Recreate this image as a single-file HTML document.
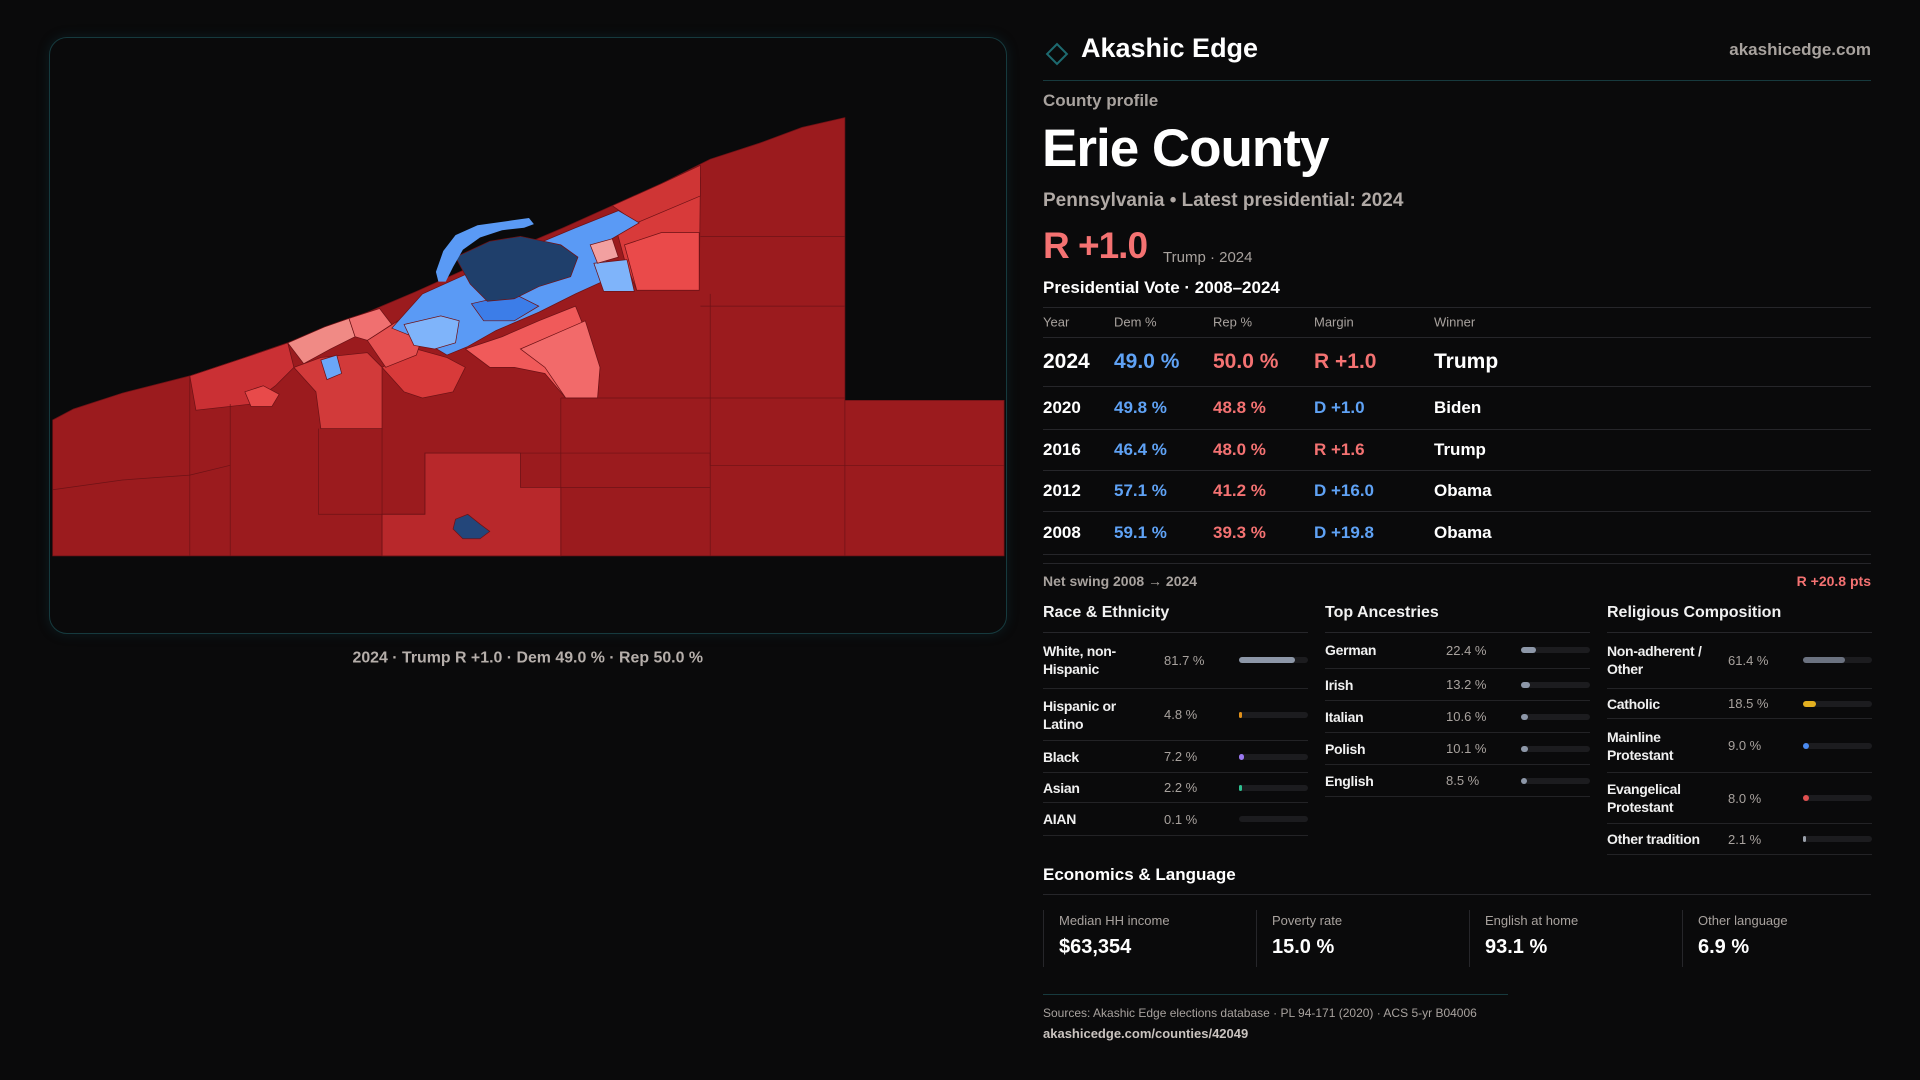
<!DOCTYPE html>
<html><head><meta charset="utf-8"><style>
*{box-sizing:border-box;margin:0;padding:0}
body{width:1920px;height:1080px;background:#0a0a0b;color:#fff;font-family:"Liberation Sans",sans-serif;position:relative;overflow:hidden}
.abs{position:absolute;white-space:nowrap}
.gray{color:#a8a29e}
.hl{position:absolute;height:1px;background:#26262a}
.sec-title{font-size:16px;font-weight:bold;color:#f2f2f2}
.row{position:absolute;left:0;width:265px;border-bottom:1px solid #232326;display:flex;align-items:center}
.row .lab{width:121px;padding-right:14px;font-size:14px;font-weight:bold;color:#f0f0f0;line-height:18px;white-space:normal;letter-spacing:-0.3px}
.row .val{width:75px;font-size:13px;color:#a8a29e}
.track{width:69px;height:6px;border-radius:3px;background:#1c1c1f;position:relative}
.fill{position:absolute;left:0;top:0;height:6px;border-radius:3px}
.tr{position:absolute;left:1043px;width:828px;border-bottom:1px solid #26262a}
.tr span{position:absolute;top:50%;transform:translateY(-50%);font-weight:bold}
.card{position:absolute;top:910px;height:57px;border-left:1px solid #26262a;padding-left:15px}
.card .l{font-size:13px;color:#a8a29e;margin-top:3px}
.card .v{font-size:20px;font-weight:bold;margin-top:8px}
</style></head><body>

<div style="position:absolute;left:49px;top:37px;width:958px;height:597px;border:1px solid #163a3e;border-radius:18px;background:#0a0a0b;box-shadow:0 0 12px rgba(20,80,90,0.25)"></div>

<svg style="position:absolute;left:0;top:0" width="1920" height="1080" viewBox="0 0 1568 882">
<g stroke="#6e1216" stroke-width="0.6">
<polygon fill="#9b1b1e" points="43,454 43,343 60,334 100,321 155,307 200,292 235,280 270,266 300,255 340,238 380,220 420,203 460,186 500,168 540,150 580,130 620,117 655,104 690,96 690,327 820,327 820,454"/>
<polygon fill="#b8282b" points="347,370 425,370 425,398 458,398 458,454 312,454 312,420 347,420"/>
<polygon fill="#ca3034" points="155,307 200,292 235,280 240,300 225,315 205,330 160,335"/>
<polygon fill="#d23a3a" points="240,300 262,292 300,288 312,300 312,350 262,350 258,320"/>
<polygon fill="#e84a4a" points="200,320 215,315 228,322 222,332 205,332"/>
<polygon fill="#f08a85" points="235,280 265,267 285,260 290,275 270,285 248,297"/>
<polygon fill="#f07070" points="285,260 310,252 320,265 300,278 290,275"/>
<polygon fill="#d83a3a" points="312,300 340,285 365,292 380,300 370,320 345,325 330,320"/>
<polygon fill="#e55050" points="300,278 325,262 345,275 340,290 315,300"/>
<polygon fill="#f05a5a" points="380,285 410,275 440,262 470,250 490,300 488,325 462,325 445,305 420,300 400,300"/>
<polygon fill="#f26a6a" points="425,285 455,272 478,262 490,300 488,325 462,325 445,300"/>
<polygon fill="#d83a3a" points="500,175 540,158 572,145 571,237 520,237 510,212"/>
<polygon fill="#ea4a4a" points="510,200 540,190 571,190 571,237 520,237"/>
<polygon fill="#cf3535" points="500,168 540,150 572,135 572,160 520,182"/>
<polygon fill="#5a9af5" points="320,268 345,240 385,222 420,207 470,186 505,172 522,182 498,196 492,230 470,240 440,255 405,270 382,283 365,290 345,278"/>
<polygon fill="#7fb4fa" points="330,265 360,258 375,262 372,280 355,285 338,282"/>
<polygon fill="#7fb4fa" points="485,215 512,212 518,238 493,238"/>
<polygon fill="#f2a0a0" points="482,200 500,195 505,210 488,215"/>
<polygon fill="#3c7de8" points="385,248 420,240 440,250 420,262 395,262"/>
<polygon fill="#1f3f6b" points="372,210 400,197 425,193 458,200 472,210 466,226 440,234 420,244 398,246 384,232"/>
<polygon fill="#5a9af5" stroke="none" points="358,230 356,222 362,205 372,192 390,184 418,180 432,178 436,183 428,186 410,188 392,194 378,204 370,218 364,230"/>
<polygon fill="#6aa6f8" points="262,294 275,290 279,305 267,310"/>
<polygon fill="#23467a" points="372,424 382,420 392,428 400,434 392,440 378,440 370,432"/>
<polyline fill="none" points="155,307 155,454"/>
<polyline fill="none" points="188,330 188,454"/>
<polyline fill="none" points="260,350 260,420 347,420 347,370 425,370"/>
<polyline fill="none" points="312,350 312,454"/>
<polyline fill="none" points="458,325 458,454"/>
<polyline fill="none" points="580,240 580,454"/>
<polyline fill="none" points="690,327 690,454"/>
<polyline fill="none" points="572,193 690,193"/>
<polyline fill="none" points="572,250 690,250"/>
<polyline fill="none" points="458,325 690,325"/>
<polyline fill="none" points="43,400 100,392 155,388 188,380"/>
<polyline fill="none" points="425,370 580,370 580,380 690,380 820,380"/>
<polyline fill="none" points="458,398 580,398"/>
</g>
<text x="431" y="541" text-anchor="middle" fill="#b5aeaa" font-family="Liberation Sans" font-size="13" font-weight="bold">2024 · Trump R +1.0 · Dem 49.0 % · Rep 50.0 %</text>
</svg>

<svg class="abs" style="left:1044px;top:41px" width="26" height="26"><rect x="6" y="6" width="14" height="14" transform="rotate(45 13 13)" fill="none" stroke="#1d6a70" stroke-width="2"/></svg>
<div class="abs" style="left:1081px;top:33px;font-size:27px;font-weight:bold">Akashic Edge</div>
<div class="abs gray" style="right:49px;top:40px;font-size:17px;font-weight:bold">akashicedge.com</div>
<div class="hl" style="left:1043px;top:80px;width:828px;background:#173a3e"></div>
<div class="abs gray" style="left:1043px;top:91px;font-size:17px;font-weight:bold">County profile</div>
<div class="abs" style="left:1042px;top:118px;font-size:53px;font-weight:bold;letter-spacing:-1px">Erie County</div>
<div class="abs" style="left:1043px;top:190px;font-size:19px;font-weight:bold;color:#b0a9a5">Pennsylvania • Latest presidential: 2024</div>
<div class="abs" style="left:1043px;top:225px;font-size:37px;font-weight:bold;color:#f47272;letter-spacing:-1px">R +1.0</div>
<div class="abs gray" style="left:1163px;top:249px;font-size:15px">Trump · 2024</div>
<div class="abs" style="left:1043px;top:278px;font-size:17px;font-weight:bold">Presidential Vote · 2008–2024</div>
<div class="hl" style="left:1043px;top:307px;width:828px"></div>

<div>
<div class="tr" style="top:307px;height:31px;font-size:13px;color:#a8a29e"><span style="left:0;font-weight:normal">Year</span><span style="left:71px;font-weight:normal">Dem %</span><span style="left:170px;font-weight:normal">Rep %</span><span style="left:271px;font-weight:normal">Margin</span><span style="left:391px;font-weight:normal">Winner</span></div>
<div class="tr" style="top:338px;height:49px;font-size:21px"><span style="left:0">2024</span><span style="left:71px;color:#5fa2f5">49.0 %</span><span style="left:170px;color:#f47272">50.0 %</span><span style="left:271px;color:#f47272">R +1.0</span><span style="left:391px">Trump</span></div>
<div class="tr" style="top:387px;height:43px;font-size:17px"><span style="left:0">2020</span><span style="left:71px;color:#5fa2f5">49.8 %</span><span style="left:170px;color:#f47272">48.8 %</span><span style="left:271px;color:#5fa2f5">D +1.0</span><span style="left:391px">Biden</span></div>
<div class="tr" style="top:430px;height:41px;font-size:17px"><span style="left:0">2016</span><span style="left:71px;color:#5fa2f5">46.4 %</span><span style="left:170px;color:#f47272">48.0 %</span><span style="left:271px;color:#f47272">R +1.6</span><span style="left:391px">Trump</span></div>
<div class="tr" style="top:471px;height:41px;font-size:17px"><span style="left:0">2012</span><span style="left:71px;color:#5fa2f5">57.1 %</span><span style="left:170px;color:#f47272">41.2 %</span><span style="left:271px;color:#5fa2f5">D +16.0</span><span style="left:391px">Obama</span></div>
<div class="tr" style="top:512px;height:43px;font-size:17px"><span style="left:0">2008</span><span style="left:71px;color:#5fa2f5">59.1 %</span><span style="left:170px;color:#f47272">39.3 %</span><span style="left:271px;color:#5fa2f5">D +19.8</span><span style="left:391px">Obama</span></div>
</div>
<div class="hl" style="left:1043px;top:563px;width:828px"></div>
<div class="abs gray" style="left:1043px;top:573px;font-size:14px;font-weight:bold">Net swing 2008 → 2024</div>
<div class="abs" style="right:49px;top:573px;font-size:14px;font-weight:bold;color:#f47272">R +20.8 pts</div>

<div class="abs" style="left:1043px;top:604px;width:265px;height:240px"><div class="sec-title">Race &amp; Ethnicity</div><div class="hl" style="left:0;top:28px;width:265px"></div><div id="race" style="position:absolute;left:0;top:28px"></div></div>
<div class="abs" style="left:1325px;top:604px;width:265px;height:240px"><div class="sec-title">Top Ancestries</div><div class="hl" style="left:0;top:28px;width:265px"></div><div id="anc" style="position:absolute;left:0;top:28px"></div></div>
<div class="abs" style="left:1607px;top:604px;width:265px;height:260px"><div class="sec-title">Religious Composition</div><div class="hl" style="left:0;top:28px;width:265px"></div><div id="rel" style="position:absolute;left:0;top:28px"></div></div>

<div class="abs" style="left:1043px;top:865px;font-size:17px;font-weight:bold">Economics &amp; Language</div>
<div class="hl" style="left:1043px;top:894px;width:828px"></div>
<div class="card" style="left:1043px;width:213px"><div class="l">Median HH income</div><div class="v">$63,354</div></div>
<div class="card" style="left:1256px;width:213px"><div class="l">Poverty rate</div><div class="v">15.0 %</div></div>
<div class="card" style="left:1469px;width:213px"><div class="l">English at home</div><div class="v">93.1 %</div></div>
<div class="card" style="left:1682px;width:190px"><div class="l">Other language</div><div class="v">6.9 %</div></div>

<div class="hl" style="left:1043px;top:994px;width:465px;background:#173a3e"></div>
<div class="abs gray" style="left:1043px;top:1006px;font-size:12px">Sources: Akashic Edge elections database · PL 94-171 (2020) · ACS 5-yr B04006</div>
<div class="abs" style="left:1043px;top:1026px;font-size:13px;font-weight:bold;color:#c9c3bf">akashicedge.com/counties/42049</div>

<script>
const raceLabels=["White, non-Hispanic","Hispanic or Latino","Black","Asian","AIAN"];
const raceValues=[81.7,4.8,7.2,2.2,0.1];
const raceColors=["#8d97a8","#e0901a","#9a78f0","#2fc090","#555"];
const raceHeights=[57,52,32,30,33];
const ancLabels=["German","Irish","Italian","Polish","English"];
const ancValues=[22.4,13.2,10.6,10.1,8.5];
const ancColors=["#8d97a8","#8d97a8","#8d97a8","#8d97a8","#8d97a8"];
const ancHeights=[37,32,32,32,32];
const relLabels=["Non-adherent / Other","Catholic","Mainline Protestant","Evangelical Protestant","Other tradition"];
const relValues=[61.4,18.5,9.0,8.0,2.1];
const relColors=["#6b7280","#e3b020","#4a8af0","#e05050","#9aa0aa"];
const relHeights=[57,30,54,51,31];
function xs(v){return Math.max(v/100*69, v>0.5?3:0);}
function build(id,labels,values,colors,heights){
  const c=document.getElementById(id);let y=0;
  labels.forEach((l,i)=>{
    const r=document.createElement('div');r.className='row';
    
    
    r.style.top=y+'px';r.style.height=heights[i]+'px';
    r.innerHTML='<div class="lab">'+l+'</div><div class="val">'+values[i].toFixed(1)+' %</div>';
    const t=document.createElement('div');t.className='track';
    
    
    const f=document.createElement('div');f.className='fill';
    
    
    f.style.width=xs(values[i])+'px';f.style.background=colors[i];
    t.appendChild(f);r.appendChild(t);c.appendChild(r);y+=heights[i];
  });
}
build('race',raceLabels,raceValues,raceColors,raceHeights);
build('anc',ancLabels,ancValues,ancColors,ancHeights);
build('rel',relLabels,relValues,relColors,relHeights);
</script>
</body></html>
